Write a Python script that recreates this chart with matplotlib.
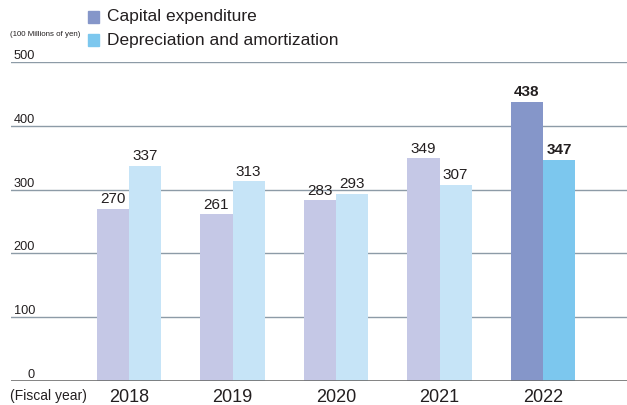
import matplotlib.pyplot as plt
import matplotlib.transforms as mtransforms
from matplotlib.patches import Rectangle
import numpy as np

plt.rcParams['font.family'] = ['Liberation Sans', 'DejaVu Sans']

years = ['2018', '2019', '2020', '2021', '2022']
capex = [270, 261, 283, 349, 438]
depr = [337, 313, 293, 307, 347]
yticks = [0, 100, 200, 300, 400, 500]
legend_labels = ['Capital expenditure', 'Depreciation and amortization']

cap_light = '#c5c8e6'
dep_light = '#c6e4f7'
cap_dark = '#8596c9'
dep_dark = '#7cc7ee'

W, H = 627, 405
fig = plt.figure(figsize=(W / 100, H / 100), dpi=100)

def fx(px):
    return px / W

def fy(py):
    return 1 - py / H

ax = fig.add_axes([fx(11), fy(381), fx(616), fy(62) - fy(381)])
ax.set_ylim(0, 500)
xmin = -(129 - 11) / 103.5
ax.set_xlim(xmin, xmin + 616 / 103.5)

x = np.arange(len(years))
w = 0.31
cap_colors = [cap_light] * 4 + [cap_dark]
dep_colors = [dep_light] * 4 + [dep_dark]
ax.bar(x - w / 2, capex, w, color=cap_colors, zorder=3)
ax.bar(x + w / 2, depr, w, color=dep_colors, zorder=3)

for i in range(len(years)):
    weight = 'bold' if i == len(years) - 1 else 'normal'
    ax.annotate(str(capex[i]), (x[i] - w / 2, capex[i]), xytext=(0, 2),
                textcoords='offset points', ha='center', va='bottom',
                fontsize=11, color='#231f20', fontweight=weight)
    ax.annotate(str(depr[i]), (x[i] + w / 2, depr[i]), xytext=(0, 2),
                textcoords='offset points', ha='center', va='bottom',
                fontsize=11, color='#231f20', fontweight=weight)

# gridlines
for v in yticks[1:]:
    ax.axhline(v, color='#8d9ba7', lw=1, zorder=1)
ax.axhline(0, color='#6e6e6e', lw=1.2, zorder=4)

for s in ax.spines.values():
    s.set_visible(False)
ax.set_yticks([])
ax.set_xticks(x)
ax.set_xticklabels(years, fontsize=13, color='#231f20')
ax.tick_params(axis='x', length=0, pad=6)

trans = mtransforms.blended_transform_factory(fig.transFigure, ax.transData)
for v in yticks:
    ax.text(fx(35), v, str(v), transform=trans, ha='right', va='bottom',
            fontsize=9.2, color='#231f20')

fig.text(fx(10), fy(396), '(Fiscal year)', ha='left', va='center',
         fontsize=10, color='#231f20')
fig.text(fx(10), fy(35), '(100 Millions of yen)', ha='left', va='center',
         fontsize=5.7, color='#231f20')

# legend
for k, (lab, col) in enumerate(zip(legend_labels, [cap_dark, dep_dark])):
    yc = 17 + 23 * k
    fig.patches.append(Rectangle((fx(88), fy(yc + 5.5)), fx(11), fy(yc - 5.5) - fy(yc + 5.5),
                                 transform=fig.transFigure, color=col))
    fig.text(fx(107), fy(yc), lab, ha='left', va='center', fontsize=12.5,
             color='#231f20')

fig.savefig('out.png', dpi=100)
